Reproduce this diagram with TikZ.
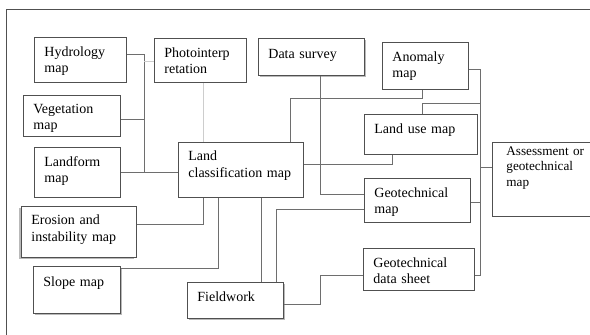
\documentclass[tikz,border=0pt]{standalone}
\usepackage{fontspec}
\setmainfont{Liberation Serif}
\usetikzlibrary{shadows}
\definecolor{boxline}{HTML}{505050}
\definecolor{wire}{HTML}{6E6E6E}
\definecolor{faint}{HTML}{CDCDCD}
\begin{document}
\begin{tikzpicture}[x=1pt,y=-1pt,
  box/.style={draw=boxline, line width=0.8pt, fill=white, rectangle,
    anchor=north west, inner xsep=10pt, inner ysep=0pt, align=left,
    font=\fontsize{14}{16}\selectfont, text height=19pt},
  shR/.style={drop shadow={shadow xshift=2pt, shadow yshift=-2pt, fill=gray!55, opacity=1}},
  shL/.style={drop shadow={shadow xshift=-2pt, shadow yshift=-2pt, fill=gray!55, opacity=1}},
  wire/.style={draw=wire, line width=0.8pt},
  faintwire/.style={draw=faint, line width=0.8pt},
  frame/.style={draw=boxline, line width=0.8pt}]
\useasboundingbox (0,0) rectangle (590,335);
% outer frame
\draw[frame] (590,9) -- (6,9) -- (6,335);

% boxes
\node[box, minimum width=92pt, text width=72pt, text depth=26pt] (hyd) at (34,37) {Hydrology\\map};
\node[box, minimum width=92pt, text width=72pt, text depth=25pt] (photo) at (154,38) {Photointerp\\retation};
\node[box, shR, minimum width=106pt, text width=86pt, text height=20pt, text depth=17pt] (ds) at (258,38) {Data~survey};
\node[box, minimum width=86pt, text width=66pt, text depth=28pt] (anom) at (382,42) {Anomaly\\map};
\node[box, minimum width=97pt, text width=77pt, text height=18pt, text depth=23pt] (veg) at (23,95) {Vegetation\\map};
\node[box, minimum width=86pt, text width=66pt, text depth=31pt] (land) at (34,147) {Landform\\map};
\node[box, minimum width=125pt, text width=105pt, text height=18pt, text depth=37pt] (lcm) at (178,142) {Land\\[1pt]classification~map};
\node[box, minimum width=113pt, text width=93pt, text depth=21pt] (luse) at (364,114) {Land~use~map};
\node[box, minimum width=102pt, text width=74pt, inner xsep=14pt, text height=13pt, text depth=61pt,
  font=\fontsize{13.2}{15.5}\selectfont] (assess) at (492,142) {Assessment~or\\geotechnical\\map};
\node[box, minimum width=106pt, text width=86pt, text depth=25pt] (geo) at (364,178) {Geotechnical\\map};
\node[box, shL, minimum width=115pt, text width=95pt, text height=18pt, text depth=33pt] (eros) at (21,206) {Erosion~and\\[1pt]instability~map};
\node[box, shR, minimum width=87pt, text width=67pt, text height=20pt, text depth=27pt] (slope) at (33,266) {Slope~map};
\node[box, shR, minimum width=96pt, text width=76pt, text depth=17pt] (field) at (187,282) {Fieldwork};
\node[box, minimum width=111pt, text width=91pt, text depth=23pt] (sheet) at (363,248) {Geotechnical\\data~sheet};

% left bus into the land classification map
\draw[wire] (hyd.east |- 0,54) -| (144,172);
\draw[wire] (veg.east |- 0,119) -- (144,119);
\draw[wire] (land.east |- 0,172) -- (lcm.west |- 0,172);
\draw[faintwire] (144,61) -- (photo.west |- 0,61);
\draw[faintwire] (photo.south -| 203,0) -- (lcm.north -| 203,0);

% upper right links
\draw[wire] (ds.south -| 320,0) |- (geo.west |- 0,194);
\draw[wire] (lcm.north -| 290,0) |- (422,98) -- (anom.south -| 422,0);
\draw[wire] (lcm.east |- 0,164) -| (luse.south -| 392,0);
\draw[wire] (luse.north -| 422,0) |- (480,103);

% right bus into the assessment map
\draw[wire] (anom.east |- 0,69) -- (480,69) -- (480,275) -- (sheet.east |- 0,275);
\draw[wire] (geo.east |- 0,202) -- (480,202);
\draw[wire] (480,167) -- (assess.west |- 0,167);

% lower links
\draw[wire] (lcm.south -| 203,0) |- (eros.east |- 0,224);
\draw[wire] (lcm.south -| 218,0) |- (slope.east |- 0,268);
\draw[wire] (lcm.south -| 261,0) -- (field.north -| 261,0);
\draw[wire] (field.north -| 276,0) |- (geo.west |- 0,209);
\draw[wire] (field.east |- 0,304) -| (320,275) -- (sheet.west |- 0,275);
\end{tikzpicture}
\end{document}
